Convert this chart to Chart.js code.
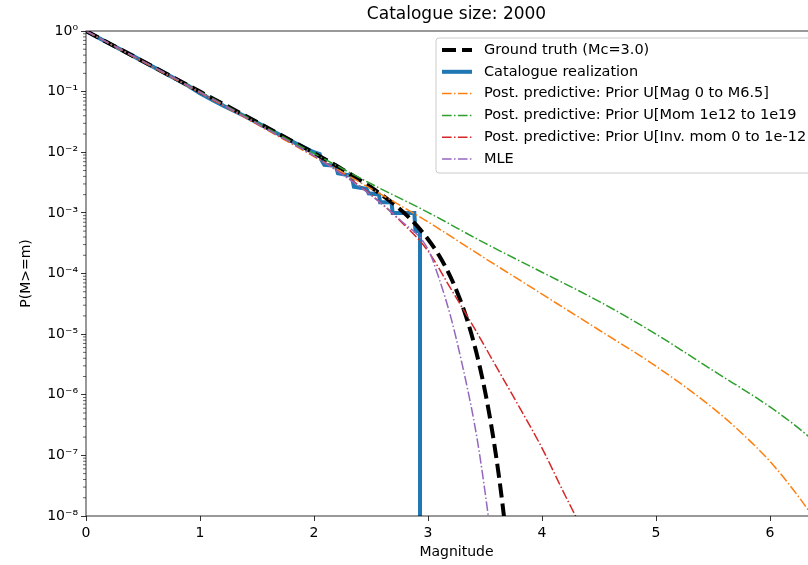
<!DOCTYPE html>
<html>
<head>
<meta charset="utf-8">
<script src="https://cdn.jsdelivr.net/npm/chart.js@4.4.1/dist/chart.umd.min.js"></script>
<style>
  html, body { margin: 0; padding: 0; background: #fff; overflow: hidden; }
  #wrap { width: 900px; height: 565px; }
</style>
</head>
<body>
<div id="wrap"><canvas id="cdfChart" width="900" height="565"></canvas></div>
<script>
// values (P(M>=m) against magnitude)
const chartTitle = 'Catalogue size: 2000';
const xTicks = [0, 1, 2, 3, 4, 5, 6];
const yDecades = [-8, -7, -6, -5, -4, -3, -2, -1, 0];

const truthMag = [0, 0.5, 1, 1.5, 2, 2.25, 2.5, 2.75, 2.9, 3.0, 3.05, 3.1, 3.15, 3.2, 3.25, 3.3, 3.35, 3.4, 3.45, 3.5, 3.55, 3.6, 3.65, 3.7];
const truthP = [1, 0.316, 0.1, 0.0315, 0.00968, 0.00522, 0.00265, 0.00117, 6.2e-4, 3.68e-4, 2.72e-4, 1.94e-4, 1.32e-4, 8.59e-5, 5.26e-5, 3.0e-5, 1.57e-5, 7.45e-6, 3.14e-6, 1.15e-6, 3.55e-7, 8.97e-8, 1.79e-8, 2.7e-9];

const catMag = [0, 0.1, 0.2, 0.3, 0.4, 0.5, 0.6, 0.7, 0.8, 0.9, 1.0, 1.1, 1.2, 1.3, 1.4, 1.5, 1.6, 1.7, 1.8, 1.9, 2.0, 2.05, 2.07, 2.09, 2.19, 2.21, 2.33, 2.35, 2.46, 2.48, 2.57, 2.58, 2.68, 2.69, 2.88, 2.89, 2.93, 2.93];
const catP = [1, 0.79, 0.63, 0.5, 0.4, 0.315, 0.25, 0.197, 0.157, 0.124, 0.094, 0.074, 0.059, 0.048, 0.039, 0.031, 0.0245, 0.0195, 0.0154, 0.0123, 0.0100, 0.0093, 0.0072, 0.0062, 0.0060, 0.0045, 0.0041, 0.0027, 0.0025, 0.0021, 0.0020, 0.0015, 0.0015, 0.0010, 0.0010, 0.0005, 0.0005, 1e-9];

const magPriorMag = [0, 0.5, 1, 1.5, 2, 2.5, 3, 3.5, 4, 4.5, 5, 5.5, 5.75, 6, 6.25, 6.5];
const magPriorP = [1, 0.309, 0.0955, 0.0288, 0.00851, 0.00251, 7.08e-4, 1.78e-4, 4.57e-5, 1.17e-5, 2.95e-6, 6.03e-7, 2.34e-7, 7.94e-8, 2.09e-8, 4.47e-9];

const momPriorMag = [0, 0.5, 1, 1.5, 2, 2.5, 3, 3.5, 4, 4.5, 5, 5.5, 6, 6.25, 6.5];
const momPriorP = [1, 0.316, 0.1, 0.0309, 0.00955, 0.00302, 0.00102, 3.16e-4, 1.05e-4, 3.47e-5, 1e-5, 2.51e-6, 6.31e-7, 2.82e-7, 1.12e-7];

const invPriorMag = [0, 0.5, 1, 1.5, 2, 2.25, 2.5, 2.75, 3.0, 3.2, 3.4, 3.6, 3.8, 4.0, 4.2, 4.3, 4.4];
const invPriorP = [1, 0.316, 0.0977, 0.0295, 0.00871, 0.00437, 0.002, 7.59e-4, 2.34e-4, 5.62e-5, 1.32e-5, 2.88e-6, 6.31e-7, 1.32e-7, 2.24e-8, 9.55e-9, 3.98e-9];

const mleMag = [0, 0.5, 1, 1.5, 2, 2.25, 2.5, 2.75, 3.0, 3.1, 3.2, 3.3, 3.4, 3.45, 3.5, 3.55];
const mleP = [1, 0.316, 0.0977, 0.0295, 0.00871, 0.00427, 0.00195, 7.76e-4, 2.51e-4, 7.94e-5, 1.91e-5, 3.16e-6, 3.98e-7, 1.12e-7, 2.51e-8, 5.01e-9];

const toPoints = (xs, ys) => xs.map((x, i) => ({ x: x, y: ys[i] }));
const dashDot = [9.6, 2.4, 1.5, 2.4];
const isDecade = v => Math.abs(Math.log10(v) - Math.round(Math.log10(v))) < 1e-9;
const sup = { '-': '\u207B', '0': '\u2070', '1': '\u00B9', '2': '\u00B2', '3': '\u00B3', '4': '\u2074', '5': '\u2075', '6': '\u2076', '7': '\u2077', '8': '\u2078', '9': '\u2079' };
const powLabel = n => '10' + String(n).split('').map(c => sup[c]).join('');

Chart.defaults.font.family = "'DejaVu Sans', sans-serif";
Chart.defaults.font.size = 14;
Chart.defaults.color = '#000';

// axes frame, title over the plot, minor log ticks and a legend inside the plot
const framePlugin = {
  id: 'frame',
  afterDraw(chart) {
    const { ctx, chartArea: a } = chart;
    const y = chart.scales.y;
    ctx.save();
    ctx.strokeStyle = '#000';
    ctx.lineWidth = 0.8;
    ctx.strokeRect(a.left, a.top, a.right - a.left, a.bottom - a.top);
    ctx.lineWidth = 0.6;
    ctx.beginPath();
    y.ticks.forEach(t => {
      if (isDecade(t.value)) return;
      const py = y.getPixelForValue(t.value);
      ctx.moveTo(a.left - 3, py);
      ctx.lineTo(a.left, py);
    });
    ctx.stroke();

    ctx.fillStyle = '#000';
    ctx.font = "17px 'DejaVu Sans'";
    ctx.textAlign = 'center';
    ctx.textBaseline = 'middle';
    ctx.fillText(chartTitle, (a.left + a.right) / 2, 15);

    // legend box
    const bx = 436, by = 38, bw = 384, bh = 135, r = 3;
    ctx.beginPath();
    ctx.moveTo(bx + r, by);
    ctx.arcTo(bx + bw, by, bx + bw, by + bh, r);
    ctx.arcTo(bx + bw, by + bh, bx, by + bh, r);
    ctx.arcTo(bx, by + bh, bx, by, r);
    ctx.arcTo(bx, by, bx + bw, by, r);
    ctx.closePath();
    ctx.fillStyle = 'rgba(255,255,255,0.8)';
    ctx.fill();
    ctx.strokeStyle = '#cccccc';
    ctx.lineWidth = 1;
    ctx.stroke();

    ctx.font = "14.5px 'DejaVu Sans'";
    ctx.textAlign = 'left';
    ctx.fillStyle = '#000';
    chart.data.datasets.forEach((ds, i) => {
      const ry = 50 + i * 21.8;
      ctx.save();
      ctx.strokeStyle = ds.borderColor;
      ctx.lineWidth = ds.borderWidth;
      ctx.setLineDash(ds.borderDash || []);
      ctx.beginPath();
      ctx.moveTo(442, ry);
      ctx.lineTo(472, ry);
      ctx.stroke();
      ctx.restore();
      ctx.fillText(ds.label, 484, ry);
    });
    ctx.restore();
  }
};

new Chart(document.getElementById('cdfChart'), {
  type: 'line',
  data: {
    datasets: [
      { label: 'Ground truth (Mc=3.0)', data: toPoints(truthMag, truthP), borderColor: '#000000', borderWidth: 4, borderDash: [14, 6], cubicInterpolationMode: 'monotone', order: 4 },
      { label: 'Catalogue realization', data: toPoints(catMag, catP), borderColor: '#1f77b4', borderWidth: 4, order: 5 },
      { label: 'Post. predictive: Prior U[Mag 0 to M6.5]', data: toPoints(magPriorMag, magPriorP), borderColor: '#ff7f0e', borderWidth: 1.5, borderDash: dashDot, cubicInterpolationMode: 'monotone', order: 3 },
      { label: 'Post. predictive: Prior U[Mom 1e12 to 1e19', data: toPoints(momPriorMag, momPriorP), borderColor: '#2ca02c', borderWidth: 1.5, borderDash: dashDot, cubicInterpolationMode: 'monotone', order: 2 },
      { label: 'Post. predictive: Prior U[Inv. mom 0 to 1e-12', data: toPoints(invPriorMag, invPriorP), borderColor: '#d62728', borderWidth: 1.5, borderDash: dashDot, cubicInterpolationMode: 'monotone', order: 1 },
      { label: 'MLE', data: toPoints(mleMag, mleP), borderColor: '#9467bd', borderWidth: 1.5, borderDash: dashDot, cubicInterpolationMode: 'monotone', order: 0 }
    ]
  },
  options: {
    responsive: false,
    animation: false,
    elements: { point: { radius: 0 } },
    layout: { padding: { left: 0, right: 73, top: 31, bottom: 0 } },
    plugins: {
      legend: { display: false },
      tooltip: { enabled: false },
      title: { display: false }
    },
    scales: {
      x: {
        type: 'linear',
        min: 0,
        max: 6.5,
        afterBuildTicks: s => { s.ticks = xTicks.map(v => ({ value: v })); },
        afterFit: s => { s.height = 49; },
        ticks: { padding: 4, maxRotation: 0, callback: v => String(v) },
        grid: { drawOnChartArea: false, drawTicks: true, tickLength: 5, tickColor: '#000', tickWidth: 0.8 },
        border: { display: false },
        title: { display: true, text: 'Magnitude', padding: { top: 0, bottom: 4 } }
      },
      y: {
        type: 'logarithmic',
        min: 1e-8,
        max: 1,
        afterBuildTicks: s => {
          const t = [];
          yDecades.forEach(d => {
            for (let k = 1; k <= 9; k++) {
              if (d === 0 && k > 1) break;
              t.push({ value: k * Math.pow(10, d) });
            }
          });
          s.ticks = t;
        },
        afterFit: s => { s.width = 86; },
        ticks: {
          autoSkip: false,
          padding: 3,
          callback: v => isDecade(v) ? powLabel(Math.round(Math.log10(v))) : ''
        },
        grid: {
          drawOnChartArea: false,
          drawTicks: true,
          tickLength: 5,
          tickWidth: 0.8,
          tickColor: c => (c.tick && isDecade(c.tick.value)) ? '#000' : 'rgba(0,0,0,0)'
        },
        border: { display: false },
        title: { display: true, text: 'P(M>=m)', padding: { top: 18, bottom: 0 } }
      }
    }
  },
  plugins: [framePlugin]
});
</script>
</body>
</html>
